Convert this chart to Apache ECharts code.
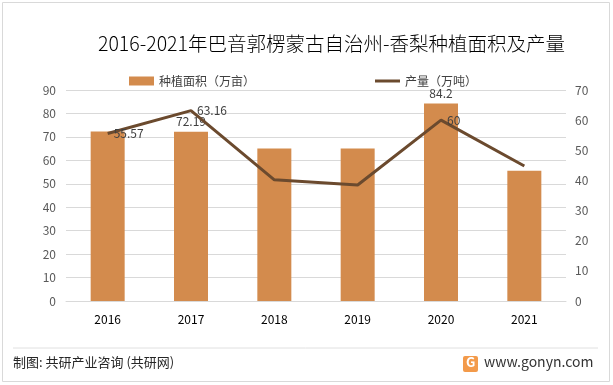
<!DOCTYPE html>
<html><head><meta charset="utf-8">
<script src="https://cdn.jsdelivr.net/npm/echarts@6/dist/echarts.min.js"></script>
<style>html,body{margin:0;padding:0;background:#fff}#c{width:613px;height:385px}</style>
</head><body><div id="c"></div>
<script>
const years = ['2016','2017','2018','2019','2020','2021'];
const area = [72.3, 72.19, 65, 65, 84.2, 55.6];
const output = [55.57, 63.16, 40.2, 38.5, 60, 44.8];
const areaLabelShown = [false, true, false, false, true, false];
const outputLabelShown = [true, true, false, false, true, false];
const leftTicks = {min:0, max:90, interval:10};
const rightTicks = {min:0, max:70, interval:10};

const font = '"Noto Sans CJK SC", "Noto Sans", sans-serif';
const chart = echarts.init(document.getElementById('c'), null, {renderer:'canvas'});
chart.setOption({
  animation:false,
  textStyle:{fontFamily:font},
  title:{text:'2016-2021年巴音郭楞蒙古自治州-香梨种植面积及产量', left:93, top:29,
    textStyle:{fontSize:19.5, fontWeight:300, color:'#000', fontFamily:font}},
  legend:{top:70, left:124, itemGap:120, itemWidth:25, itemHeight:9,
    textStyle:{fontSize:12, color:'#404040', fontFamily:font},
    data:[{name:'种植面积（万亩）', icon:'rect'}, {name:'产量（万吨）', icon:'path://M0,0h25v3h-25z'}]},
  grid:{left:66, right:47, top:90, bottom:84},
  xAxis:{type:'category', data:years,
    axisLine:{lineStyle:{color:'#d9d9d9'}}, axisTick:{show:false},
    axisLabel:{color:'#000', fontSize:12, margin:12}},
  yAxis:[
    {type:'value', min:leftTicks.min, max:leftTicks.max, interval:leftTicks.interval,
     axisLabel:{color:'#595959', fontSize:12, margin:10},
     splitLine:{lineStyle:{color:'#d9d9d9'}}, axisLine:{show:false}},
    {type:'value', min:rightTicks.min, max:rightTicks.max, interval:rightTicks.interval,
     axisLabel:{color:'#595959', fontSize:12, margin:9},
     splitLine:{show:false}, axisLine:{show:false}}
  ],
  series:[
    {name:'种植面积（万亩）', type:'bar', barWidth:34, itemStyle:{color:'#D38B4D'},
     data:area.map((v,i)=>({value:v, label:{show:areaLabelShown[i]}})),
     label:{position:'top', color:'#404040', fontSize:12, distance:4}},
    {name:'产量（万吨）', type:'line', yAxisIndex:1, symbol:'circle', symbolSize:0, showSymbol:true,
     lineStyle:{color:'#6B4A2E', width:3}, itemStyle:{color:'#6B4A2E'},
     data:output.map((v,i)=>({value:v, label:{show:outputLabelShown[i]}})),
     label:{position:'right', distance:6, color:'#404040', fontSize:12}}
  ],
  graphic:[
    {type:'rect', shape:{x:2.5,y:2.5,width:607,height:379}, style:{fill:'none', stroke:'#d9d9d9', lineWidth:1}, silent:true},
    {type:'line', shape:{x1:13,y1:348,x2:598,y2:348}, style:{stroke:'#e0e0e0', lineWidth:1}},
    {type:'text', left:13, top:356, style:{text:'制图: 共研产业咨询 (共研网)', fontSize:13, fill:'#262626', fontFamily:font}},
    {type:'rect', shape:{x:463,y:356,width:15,height:16, r:2}, style:{fill:'#F39A4A'}},
    {type:'text', left:466, top:356, style:{text:'G', fontSize:13, fontWeight:'bold', fill:'#fff', fontFamily:font}},
    {type:'text', left:484, top:355, style:{text:'www.gonyn.com', fontSize:14, fill:'#333', fontFamily:font}}
  ]
});
</script></body></html>
